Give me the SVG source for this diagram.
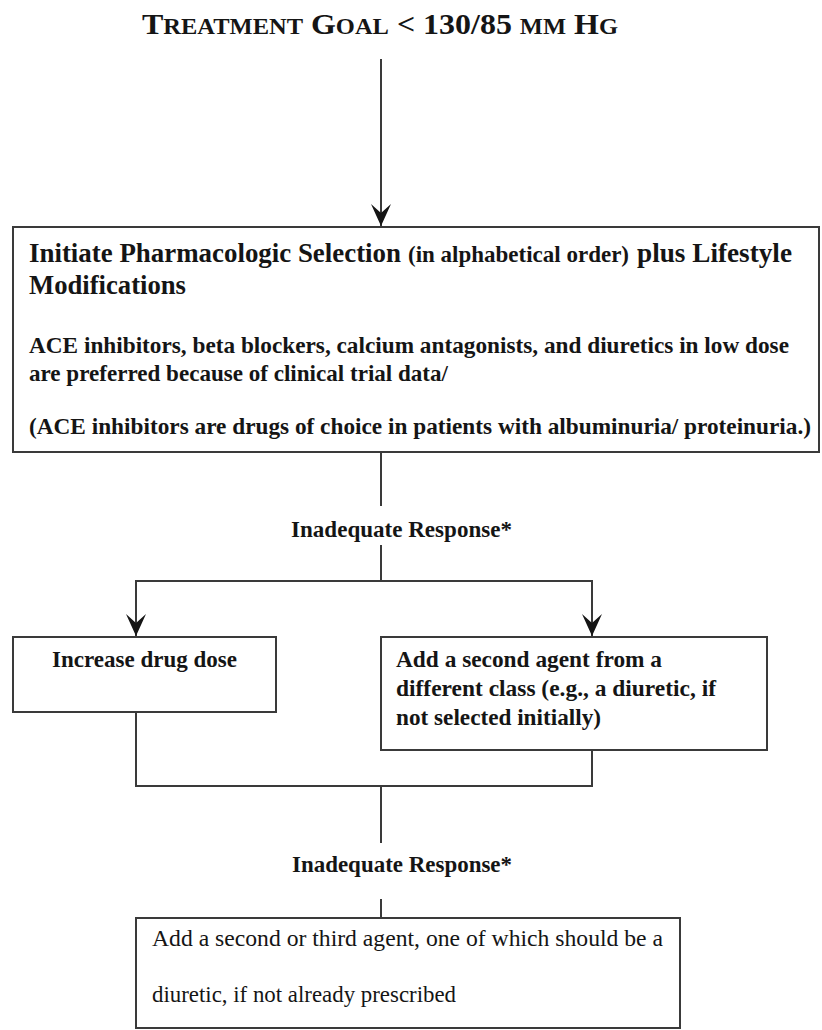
<svg xmlns="http://www.w3.org/2000/svg" width="822" height="1030" viewBox="0 0 822 1030">
<defs>
<style>
.t{font-family:"Liberation Serif","Times New Roman",serif;fill:#151515}
.b{font-weight:bold}
.box{fill:#fff;stroke:#3a3a3a;stroke-width:2}
.ln{fill:none;stroke:#3a3a3a;stroke-width:2}
</style>
<marker id="ah" viewBox="-24 -12 26 24" refX="0" refY="0" markerWidth="26" markerHeight="24" markerUnits="userSpaceOnUse" orient="auto">
<path d="M0,0 L-22,-10 L-13,0 L-22,10 Z" fill="#151515"/>
</marker>
</defs>
<rect width="822" height="1030" fill="#fff"/>
<g id="title">
<text class="t b" x="142" y="34" textLength="476" lengthAdjust="spacingAndGlyphs" font-size="30"><tspan>T</tspan><tspan font-size="23">REATMENT</tspan><tspan> G</tspan><tspan font-size="23">OAL</tspan><tspan> &lt; 130/85 </tspan><tspan font-size="23">MM</tspan><tspan> H</tspan><tspan font-size="23">G</tspan></text>
</g>
<g id="connectors">
<path class="ln" d="M381,59 V226" marker-end="url(#ah)"/>
<path class="ln" d="M381,452 V506"/>
<path class="ln" d="M381,545 V581"/>
<path class="ln" d="M381,581 H136 V636" marker-end="url(#ah)"/>
<path class="ln" d="M381,581 H592 V636" marker-end="url(#ah)"/>
<path class="ln" d="M136,712 V786 H592 V750"/>
<path class="ln" d="M381,786 V843"/>
<path class="ln" d="M381,899 V918"/>
</g>
<g id="initiate">
<rect class="box" x="13" y="227" width="806" height="225"/>
<text class="t b" x="29" y="262" font-size="27" textLength="372" lengthAdjust="spacingAndGlyphs">Initiate Pharmacologic Selection</text>
<text class="t b" x="408" y="262" font-size="23" textLength="221" lengthAdjust="spacingAndGlyphs">(in alphabetical order)</text>
<text class="t b" x="637" y="262" font-size="27" textLength="155" lengthAdjust="spacingAndGlyphs">plus Lifestyle</text>
<text class="t b" x="29" y="294" font-size="27" textLength="157" lengthAdjust="spacingAndGlyphs">Modifications</text>
<text class="t b" x="29" y="353" font-size="23" textLength="760" lengthAdjust="spacingAndGlyphs">ACE inhibitors, beta blockers, calcium antagonists, and diuretics in low dose</text>
<text class="t b" x="29" y="381" font-size="23" textLength="419" lengthAdjust="spacingAndGlyphs">are preferred because of clinical trial data/</text>
<text class="t b" x="29" y="434" font-size="23" textLength="782" lengthAdjust="spacingAndGlyphs">(ACE inhibitors are drugs of choice in patients with albuminuria/ proteinuria.)</text>
</g>
<g id="inadequate1">
<text class="t b" x="291" y="537" font-size="23" textLength="221" lengthAdjust="spacingAndGlyphs">Inadequate Response*</text>
</g>
<g id="increase">
<rect class="box" x="13" y="637" width="263" height="75"/>
<text class="t b" x="52" y="667" font-size="23" textLength="185" lengthAdjust="spacingAndGlyphs">Increase drug dose</text>
</g>
<g id="second-agent">
<rect class="box" x="381" y="637" width="386" height="113"/>
<text class="t b" x="396" y="667" font-size="23" textLength="266" lengthAdjust="spacingAndGlyphs">Add a second agent from a</text>
<text class="t b" x="396" y="696" font-size="23" textLength="320" lengthAdjust="spacingAndGlyphs">different class (e.g., a diuretic, if</text>
<text class="t b" x="396" y="725" font-size="23" textLength="205" lengthAdjust="spacingAndGlyphs">not selected initially)</text>
</g>
<g id="inadequate2">
<text class="t b" x="292" y="872" font-size="23" textLength="220" lengthAdjust="spacingAndGlyphs">Inadequate Response*</text>
</g>
<g id="third-agent">
<rect class="box" x="136" y="918" width="544" height="110"/>
<text class="t" x="152" y="946" font-size="24" textLength="511" lengthAdjust="spacingAndGlyphs">Add a second or third agent, one of which should be a</text>
<text class="t" x="152" y="1002" font-size="24" textLength="304" lengthAdjust="spacingAndGlyphs">diuretic, if not already prescribed</text>
</g>
</svg>
